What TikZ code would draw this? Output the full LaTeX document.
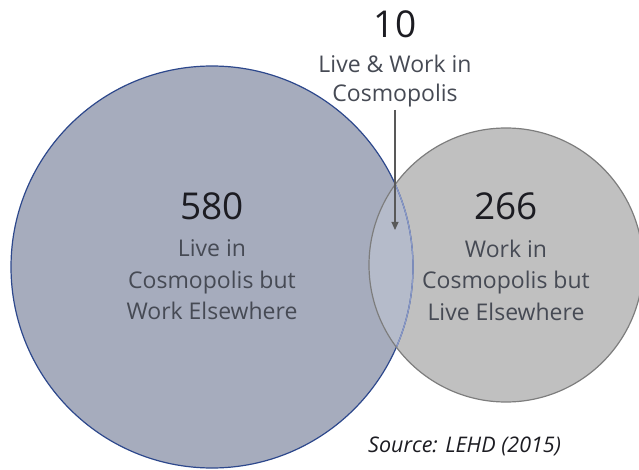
\documentclass[tikz,border=0pt]{standalone}
\usepackage{fontspec}
\setmainfont{Open Sans}
\usepackage{tikz}
\usetikzlibrary{arrows.meta,positioning}

\definecolor{livefill}{RGB}{166,172,189}
\definecolor{liveline}{RGB}{45,72,140}
\definecolor{liveedge}{RGB}{140,155,200}
\definecolor{workfill}{RGB}{192,192,192}
\definecolor{workline}{RGB}{125,125,125}
\definecolor{bothfill}{RGB}{181,187,202}
\definecolor{numtext}{RGB}{28,28,34}
\definecolor{subtext}{RGB}{70,74,84}

\begin{document}
\begin{tikzpicture}[
    x=1pt, y=-1pt,
    num/.style={inner sep=3pt, text=numtext, font=\fontsize{37}{40}\selectfont},
    sub/.style={inner sep=3pt, align=center, text=subtext, font=\fontsize{23}{31.5}\selectfont},
    arr/.style={-{Triangle[length=8pt, width=7pt]}, line width=1.1pt, draw=black!65}
]
\useasboundingbox (0,0) rectangle (639,470);
% circle centres
\coordinate (livectr) at (212,267);
\coordinate (workctr) at (506,265);
\coordinate (bothtip) at (395,230);

\fill[livefill] (livectr) circle (201);
\fill[workfill] (workctr) circle (137);
\begin{scope}
  \clip (livectr) circle (201);
  \fill[bothfill] (workctr) circle (137);
\end{scope}
\draw[liveline, line width=1.2pt] (livectr) circle (201);
\begin{scope}
  \clip (workctr) circle (137);
  \draw[liveedge, line width=1.2pt] (livectr) circle (201);
\end{scope}
\draw[workline, line width=1.2pt] (workctr) circle (137);

% labels
\node[num, anchor=base] (n580) at (212,220) {580};
\node[sub, below=13pt of n580] (livetxt) {Live in\\Cosmopolis but\\Work Elsewhere};
\node[num, anchor=base] (n266) at (506,220) {266};
\node[sub, below=13pt of n266] (worktxt) {Work in\\Cosmopolis but\\Live Elsewhere};
\node[num, anchor=base] (n10) at (395,38) {10};
\node[sub, below=10pt of n10, font=\fontsize{23}{29}\selectfont] (bothtxt) {Live \& Work in\\Cosmopolis};
\node[anchor=base west, inner sep=0pt, text=numtext, font=\fontsize{21.5}{24}\selectfont\itshape] (source) at (368,452) {Source: LEHD (2015)};

\draw[arr] (bothtxt.south -| bothtip) -- (bothtip);
\end{tikzpicture}
\end{document}
